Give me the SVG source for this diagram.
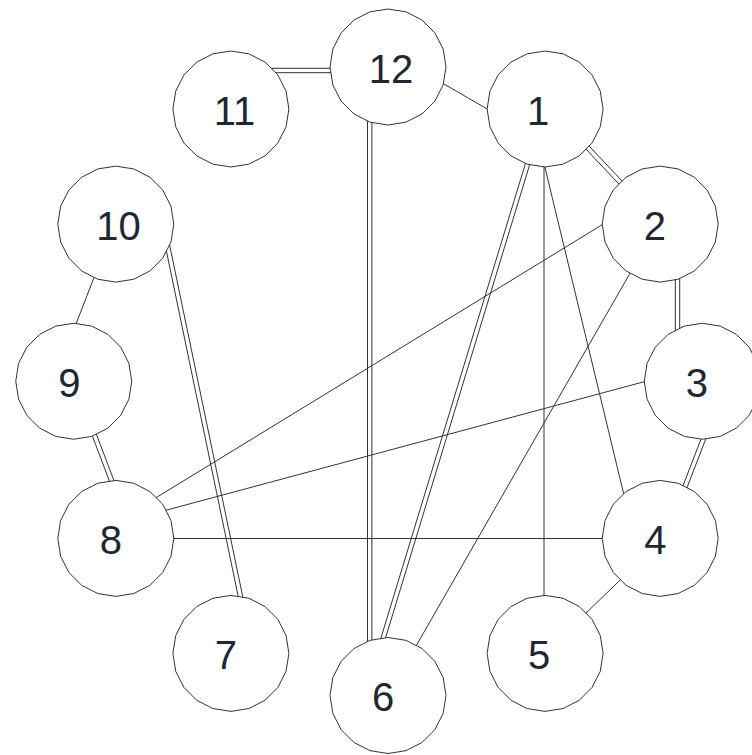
<svg xmlns="http://www.w3.org/2000/svg" xmlns:xlink="http://www.w3.org/1999/xlink" width="752" height="755" viewBox="0 0 752 755">
<style>
.e{stroke:#333;stroke-width:1;fill:none}
.n{fill:#fff;stroke:#333;stroke-width:1}
.t{font-family:"Liberation Sans",Arial,sans-serif;font-size:40px;fill:#1f2733;text-anchor:middle}
</style>
<defs>
<polygon id="nd" points="0,-58 17.92,-55.16 34.09,-46.92 46.92,-34.09 55.16,-17.92 58,0 55.16,17.92 46.92,34.09 34.09,46.92 17.92,55.16 0,58 -17.92,55.16 -34.09,46.92 -46.92,34.09 -55.16,17.92 -58,0 -55.16,-17.92 -46.92,-34.09 -34.09,-46.92 -17.92,-55.16"/>
</defs>
<rect width="752" height="755" fill="#fff"/>
<g id="connectors">
<!-- 11-12 double -->
<line class="e" x1="264" y1="68.3" x2="338" y2="68.3"/>
<line class="e" x1="264" y1="72.7" x2="338" y2="72.7"/>
<!-- 12-1 -->
<line class="e" x1="438.8" y1="81" x2="491.2" y2="111.3"/>
<!-- 12-6 double -->
<line class="e" x1="367.5" y1="115" x2="367.5" y2="648"/>
<line class="e" x1="371.9" y1="115" x2="371.9" y2="648"/>
<!-- 1-2 double -->
<line class="e" x1="580.6" y1="143.4" x2="623.2" y2="188.6"/>
<line class="e" x1="583.8" y1="140.4" x2="626.4" y2="185.6"/>
<!-- 1-6 double -->
<line class="e" x1="526.9" y1="158.7" x2="379.4" y2="643.1"/>
<line class="e" x1="531.1" y1="159.9" x2="383.6" y2="644.3"/>
<!-- 1-5 -->
<line class="e" x1="544" y1="160" x2="544" y2="603"/>
<!-- 1-4 -->
<line class="e" x1="543.6" y1="161.7" x2="624.8" y2="498.5"/>
<!-- 2-3 double -->
<line class="e" x1="675.3" y1="273" x2="675.3" y2="336"/>
<line class="e" x1="679.7" y1="273" x2="679.7" y2="336"/>
<!-- 2-8 -->
<line class="e" x1="606.8" y1="221.9" x2="151.6" y2="500.4"/>
<!-- 2-6 -->
<line class="e" x1="632" y1="269.8" x2="413.6" y2="650.2"/>
<!-- 3-4 double -->
<line class="e" x1="703.45" y1="432.7" x2="680.45" y2="492.4"/>
<line class="e" x1="707.55" y1="434.3" x2="684.55" y2="494"/>
<!-- 3-8 -->
<line class="e" x1="649.1" y1="380.4" x2="160.9" y2="511.6"/>
<!-- 4-8 -->
<line class="e" x1="168" y1="538.5" x2="608" y2="538.5"/>
<!-- 4-5 -->
<line class="e" x1="622.8" y1="577.5" x2="581.4" y2="617.5"/>
<!-- 10-9 -->
<line class="e" x1="95.5" y1="273.7" x2="73.8" y2="329.6"/>
<!-- 10-7 double -->
<line class="e" x1="164.55" y1="242.15" x2="239.85" y2="604.35"/>
<line class="e" x1="168.85" y1="241.25" x2="244.15" y2="603.45"/>
<!-- 9-8 double -->
<line class="e" x1="90.44" y1="430.93" x2="112.44" y2="489.03"/>
<line class="e" x1="94.56" y1="429.37" x2="116.56" y2="487.47"/>
</g>
<g id="node-12" transform="translate(388,67)"><use xlink:href="#nd" class="n"/><text class="t" x="3" y="15.5">12</text></g>
<g id="node-1" transform="translate(545.1,109)"><use xlink:href="#nd" class="n"/><text class="t" x="-7" y="15.5">1</text></g>
<g id="node-2" transform="translate(660.2,224.1)"><use xlink:href="#nd" class="n"/><text class="t" x="-5.3" y="15.5">2</text></g>
<g id="node-3" transform="translate(702.25,381.25)"><use xlink:href="#nd" class="n"/><text class="t" x="-5.5" y="15.5">3</text></g>
<g id="node-4" transform="translate(660.2,538.4)"><use xlink:href="#nd" class="n"/><text class="t" x="-4.8" y="15.5">4</text></g>
<g id="node-5" transform="translate(545.1,653.4)"><use xlink:href="#nd" class="n"/><text class="t" x="-6" y="15.5">5</text></g>
<g id="node-6" transform="translate(388,695.5)"><use xlink:href="#nd" class="n"/><text class="t" x="-5" y="15.5">6</text></g>
<g id="node-7" transform="translate(230.9,653.4)"><use xlink:href="#nd" class="n"/><text class="t" x="-5" y="15.5">7</text></g>
<g id="node-8" transform="translate(115.8,538.4)"><use xlink:href="#nd" class="n"/><text class="t" x="-5" y="15.5">8</text></g>
<g id="node-9" transform="translate(73.75,381.25)"><use xlink:href="#nd" class="n"/><text class="t" x="-4.5" y="15.5">9</text></g>
<g id="node-10" transform="translate(115.8,224.1)"><use xlink:href="#nd" class="n"/><text class="t" x="2.6" y="15.5">10</text></g>
<g id="node-11" transform="translate(230.9,109)"><use xlink:href="#nd" class="n"/><text class="t" x="3.5" y="15.5">11</text></g>
</svg>
